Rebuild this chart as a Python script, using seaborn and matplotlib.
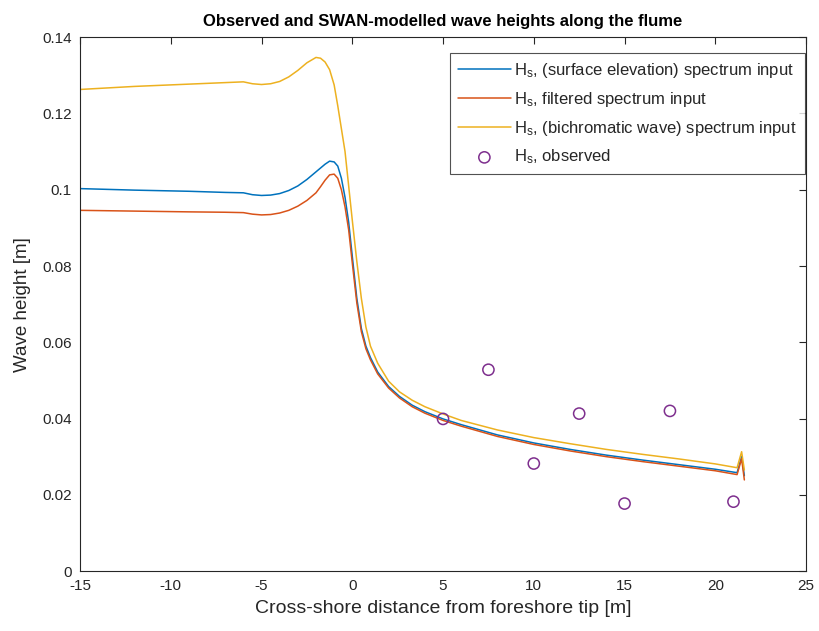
import matplotlib
matplotlib.use("Agg")
import matplotlib.pyplot as plt
import seaborn as sns
import pandas as pd

# Cross-shore positions of the SWAN output points [m]
x_model = [-15, -12, -9, -7, -6, -5.5, -5, -4.5, -4, -3.5, -3, -2.5, -2, -1.75,
           -1.5, -1.25, -1, -0.8, -0.6, -0.4, -0.2, 0, 0.25, 0.5, 0.75, 1, 1.4,
           2, 2.6, 3.3, 4, 5, 6, 8, 10, 12, 14, 16, 18, 20, 21.2, 21.45, 21.6]

# Hs, surface-elevation spectrum input
hs_surface = [0.1003, 0.0999, 0.0996, 0.0993, 0.0992, 0.0987, 0.0985, 0.0986,
              0.0990, 0.0998, 0.1010, 0.1027, 0.1047, 0.1057, 0.1067, 0.1075,
              0.1073, 0.1062, 0.1030, 0.0980, 0.0915, 0.0825, 0.0715, 0.0636,
              0.0590, 0.0560, 0.0522, 0.0484, 0.0458, 0.0435, 0.0418, 0.0399,
              0.0384, 0.0357, 0.0336, 0.0319, 0.0304, 0.0291, 0.0279, 0.0267,
              0.0258, 0.0300, 0.0250]

# Hs, filtered spectrum input
hs_filtered = [0.0946, 0.0944, 0.0942, 0.0941, 0.0940, 0.0936, 0.0934, 0.0935,
               0.0939, 0.0946, 0.0957, 0.0972, 0.0992, 0.1008, 0.1025, 0.1039,
               0.1041, 0.1030, 0.1000, 0.0955, 0.0895, 0.0808, 0.0703, 0.0628,
               0.0583, 0.0554, 0.0517, 0.0480, 0.0454, 0.0431, 0.0414, 0.0395,
               0.0380, 0.0353, 0.0332, 0.0315, 0.0300, 0.0287, 0.0275, 0.0263,
               0.0253, 0.0295, 0.0239]

# Hs, bichromatic-wave spectrum input
hs_bichromatic = [0.1263, 0.1271, 0.1277, 0.1281, 0.1283, 0.1278, 0.1276, 0.1278,
                  0.1284, 0.1296, 0.1313, 0.1333, 0.1347, 0.1345, 0.1335, 0.1315,
                  0.1275, 0.1220, 0.1160, 0.1100, 0.1010, 0.0920, 0.0812, 0.0715,
                  0.0640, 0.0590, 0.0545, 0.0498, 0.0470, 0.0448, 0.0431, 0.0412,
                  0.0395, 0.0370, 0.0350, 0.0334, 0.0319, 0.0306, 0.0294, 0.0281,
                  0.0271, 0.0313, 0.0265]

# Observed wave heights at the gauges
x_obs = [5, 7.5, 10, 12.5, 15, 17.5, 21]
hs_obs = [0.0399, 0.0528, 0.0282, 0.0413, 0.0177, 0.0420, 0.0182]

series_labels = [r"H$_{\rm s}$, (surface elevation) spectrum input",
                 r"H$_{\rm s}$, filtered spectrum input",
                 r"H$_{\rm s}$, (bichromatic wave) spectrum input"]
obs_label = r"H$_{\rm s}$, observed"

x_ticks = [-15, -10, -5, 0, 5, 10, 15, 20, 25]
y_ticks = [0, 0.02, 0.04, 0.06, 0.08, 0.1, 0.12, 0.14]
y_tick_labels = ["0", "0.02", "0.04", "0.06", "0.08", "0.1", "0.12", "0.14"]

sns.set_style("white")
plt.rcParams["font.family"] = ["Liberation Sans", "DejaVu Sans"]
plt.rcParams["mathtext.fontset"] = "custom"
plt.rcParams["mathtext.rm"] = "Liberation Sans"
plt.rcParams["mathtext.it"] = "Liberation Sans:italic"

colors = ["#0072BD", "#D95319", "#EDB120"]
obs_color = "#7E2F8E"
axis_color = "#262626"

fig = plt.figure(figsize=(8.2, 6.31), dpi=100)
ax = fig.add_axes([0.0976, 0.095, 0.8854, 0.846])

for values, label, c in zip([hs_surface, hs_filtered, hs_bichromatic],
                            series_labels, colors):
    df = pd.DataFrame({"x": x_model, "hs": values})
    sns.lineplot(data=df, x="x", y="hs", ax=ax, color=c, lw=1.1,
                 estimator=None, sort=False, label=label)

obs_df = pd.DataFrame({"x": x_obs, "hs": hs_obs})
sns.scatterplot(data=obs_df, x="x", y="hs", ax=ax, marker="o",
                facecolors="none", edgecolor=obs_color, linewidth=1.1,
                s=65, label=obs_label, zorder=5)

ax.set_xlim(-15, 25)
ax.set_ylim(0, 0.14)
ax.set_xticks(x_ticks)
ax.set_xticklabels([str(t) for t in x_ticks])
ax.set_yticks(y_ticks)
ax.set_yticklabels(y_tick_labels)
ax.tick_params(direction="in", length=5, width=0.8, colors=axis_color,
               labelsize=11, top=True, right=True, pad=6)
for sp in ax.spines.values():
    sp.set_color(axis_color)
    sp.set_linewidth(0.8)

ax.set_xlabel("Cross-shore distance from foreshore tip [m]", fontsize=14,
              color=axis_color, labelpad=5)
ax.set_ylabel("Wave height [m]", fontsize=13.5, color=axis_color, labelpad=8)
ax.set_title("Observed and SWAN-modelled wave heights along the flume",
             fontsize=12, fontweight="bold", color="black", pad=8)

leg = ax.legend(loc="upper right", bbox_to_anchor=(0.998, 0.97), fontsize=12,
                frameon=True, fancybox=False, edgecolor=axis_color,
                handlelength=3.2, handletextpad=0.2, labelspacing=0.6,
                borderaxespad=0.0, borderpad=0.45)
leg.get_frame().set_linewidth(0.8)

fig.savefig("out.png", dpi=100)
